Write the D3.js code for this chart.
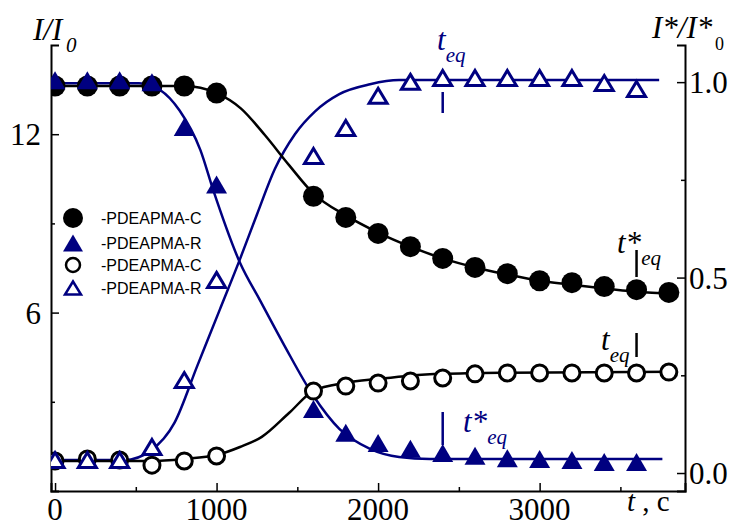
<!DOCTYPE html>
<html lang="en">
<head>
<meta charset="UTF-8" />
<title>I/I0 vs t</title>
<script src="https://cdn.jsdelivr.net/npm/d3@7"></script>
<style>
  body { margin: 0; background: #fff; }
</style>
</head>
<body>
<div id="chart"></div>
<script>
// measured points (t in c)
const times = [0, 200, 400, 600, 800, 1000, 1600, 1800, 2000, 2200, 2400, 2600, 2800, 3000, 3200, 3400, 3600, 3800];
// filled symbols -> right axis (I*/I*0), open symbols -> left axis (I/I0)
const circFilled = [0.99, 0.99, 0.99, 0.99, 0.99, 0.972, 0.708, 0.654, 0.613, 0.579, 0.549, 0.526, 0.510, 0.492, 0.487, 0.477, 0.469, 0.462];
const triFilled = [1.005, 1.005, 1.005, 1.0, 0.885, 0.738, 0.164, 0.103, 0.077, 0.062, 0.051, 0.044, 0.038, 0.036, 0.033, 0.028, 0.028];
const circOpen = [1.01, 1.08, 1.04, 0.87, 1.01, 1.18, 3.36, 3.53, 3.63, 3.70, 3.80, 3.94, 3.97, 3.97, 3.97, 3.97, 3.97, 4.0];
const triOpen = [1.04, 1.04, 1.04, 1.48, 3.73, 7.10, 11.27, 12.21, 13.29, 13.76, 13.89, 13.89, 13.89, 13.89, 13.89, 13.72, 13.52];

// fitted curves as [t, value]
const fitCircFilled = [[0, 0.99], [800, 0.99], [1000, 0.972], [1150, 0.933], [1300, 0.864], [1450, 0.787], [1600, 0.715], [1800, 0.659], [2000, 0.615], [2200, 0.579], [2400, 0.549], [2600, 0.526], [2800, 0.508], [3000, 0.492], [3200, 0.482], [3400, 0.472], [3600, 0.464], [3830, 0.459]];
const fitTriFilled = [[0, 0.997], [520, 0.997], [650, 0.98], [770, 0.928], [900, 0.826], [980, 0.723], [1145, 0.538], [1270, 0.441], [1420, 0.326], [1600, 0.197], [1760, 0.113], [1950, 0.062], [2130, 0.041], [2320, 0.036], [3760, 0.036]];
const fitCircOpen = [[0, 1.01], [590, 1.01], [800, 1.08], [1000, 1.21], [1145, 1.48], [1280, 1.82], [1450, 2.63], [1600, 3.37], [1800, 3.64], [2000, 3.77], [2200, 3.88], [2400, 3.94], [2800, 3.98], [3830, 4.01]];
const fitTriOpen = [[0, 1.04], [430, 1.04], [590, 1.35], [740, 2.3], [880, 4.2], [1020, 6.1], [1145, 7.8], [1250, 9.30], [1360, 10.82], [1485, 12.00], [1610, 12.77], [1760, 13.35], [1950, 13.68], [2130, 13.82], [3740, 13.82]];

const legendNames = ["-PDEAPMA-C", "-PDEAPMA-R", "-PDEAPMA-C", "-PDEAPMA-R"];
const xTicks = [0, 1000, 2000, 3000];
const leftTicks = [6, 12];
const rightTicks = [0.0, 0.5, 1.0];

const W = 732, H = 527;
const navy = "#000080";
const serif = "'Liberation Serif', serif";
const sans = "'Liberation Sans', sans-serif";

const svg = d3.select("#chart").append("svg")
  .attr("width", W).attr("height", H);

const x = d3.scaleLinear().domain([-25, 3900]).range([51, 685]);
const yL = d3.scaleLinear().domain([0, 15]).range([491, 45]);
const yR = d3.scaleLinear().domain([-0.046, 1.095]).range([491, 45]);

svg.append("clipPath").attr("id", "plot")
  .append("rect").attr("x", 51).attr("y", 45).attr("width", 634).attr("height", 446);

// axes, ticks pointing inward
const axB = svg.append("g").attr("transform", "translate(0,491)")
  .call(d3.axisTop(x).tickValues(d3.range(0, 3900, 500)).tickSize(8).tickFormat(""));
axB.selectAll(".tick line").attr("y2", (d) => d % 1000 === 0 ? -8 : -4);
const axL = svg.append("g").attr("transform", "translate(51,0)")
  .call(d3.axisRight(yL).tickValues([3, 6, 9, 12]).tickSize(8).tickFormat(""));
axL.selectAll(".tick line").attr("x2", (d) => d % 6 === 0 ? 8 : 4);
const axR = svg.append("g").attr("transform", "translate(685,0)")
  .call(d3.axisLeft(yR).tickValues([0, 0.25, 0.5, 0.75, 1.0]).tickSize(8).tickFormat(""));
axR.selectAll(".tick line").attr("x2", (d) => (d * 4) % 2 === 0 ? -8 : -4);
svg.selectAll(".domain").attr("stroke-width", 2);
svg.selectAll(".tick line").attr("stroke-width", 1.5);

// tick labels
svg.append("g").selectAll("text").data(xTicks).enter().append("text")
  .attr("x", d => x(d)).attr("y", 520).attr("text-anchor", "middle")
  .attr("font-size", 31).style("font-family", serif).text(d => d);
svg.append("g").selectAll("text").data(leftTicks).enter().append("text")
  .attr("x", 41).attr("y", d => yL(d) + 11).attr("text-anchor", "end")
  .attr("font-size", 31).style("font-family", serif).text(d => d);
svg.append("g").selectAll("text").data(rightTicks).enter().append("text")
  .attr("x", 689).attr("y", d => yR(d) + 11)
  .attr("font-size", 31).style("font-family", serif).text(d => d3.format(".1f")(d));

// fit curves
const plot = svg.append("g").attr("clip-path", "url(#plot)");
const lineL = d3.line().x(d => x(d[0])).y(d => yL(d[1])).curve(d3.curveMonotoneX);
const lineR = d3.line().x(d => x(d[0])).y(d => yR(d[1])).curve(d3.curveMonotoneX);

plot.append("path").attr("d", lineL(fitTriOpen)).attr("fill", "none").attr("stroke", navy).attr("stroke-width", 2.5);
plot.append("path").attr("d", lineR(fitTriFilled)).attr("fill", "none").attr("stroke", navy).attr("stroke-width", 2.5);
plot.append("path").attr("d", lineR(fitCircFilled)).attr("fill", "none").attr("stroke", "#000").attr("stroke-width", 2.5);
plot.append("path").attr("d", lineL(fitCircOpen)).attr("fill", "none").attr("stroke", "#000").attr("stroke-width", 2.5);

// triangle centred on its bounding box
const tri = (w, h) => `M0,${-h / 2}L${w / 2},${h / 2}L${-w / 2},${h / 2}Z`;

plot.selectAll(".circ-open").data(circOpen).enter().append("circle")
  .attr("cx", (d, i) => x(times[i])).attr("cy", d => yL(d)).attr("r", 8)
  .attr("fill", "#fff").attr("stroke", "#000").attr("stroke-width", 3);

plot.selectAll(".tri-open").data(triOpen).enter().append("path")
  .attr("transform", (d, i) => `translate(${x(times[i])},${yL(d)})`)
  .attr("d", tri(18, 15)).attr("fill", "#fff").attr("stroke", navy).attr("stroke-width", 3);

plot.selectAll(".circ-filled").data(circFilled).enter().append("circle")
  .attr("cx", (d, i) => x(times[i])).attr("cy", d => yR(d)).attr("r", 10.5)
  .attr("fill", "#000");

plot.selectAll(".tri-filled").data(triFilled).enter().append("path")
  .attr("transform", (d, i) => `translate(${x(times[i])},${yR(d)})`)
  .attr("d", tri(21, 18)).attr("fill", navy);

// legend
const legY = [218, 243, 265, 288];
const leg = svg.append("g");
leg.append("circle").attr("cx", 73).attr("cy", legY[0]).attr("r", 10).attr("fill", "#000");
leg.append("path").attr("transform", `translate(73,${legY[1]})`).attr("d", tri(20, 17)).attr("fill", navy);
leg.append("circle").attr("cx", 73).attr("cy", legY[2]).attr("r", 7).attr("fill", "#fff").attr("stroke", "#000").attr("stroke-width", 2.5);
leg.append("path").attr("transform", `translate(73,${legY[3]})`).attr("d", tri(16, 13)).attr("fill", "#fff").attr("stroke", navy).attr("stroke-width", 2.5);
leg.selectAll("text").data(legendNames).enter().append("text")
  .attr("x", 101).attr("y", (d, i) => legY[i] + 6)
  .attr("font-size", 16).style("font-family", sans).text(d => d);

// axis titles
const tL = svg.append("text").attr("x", 33).attr("y", 40).attr("font-size", 31)
  .attr("font-style", "italic").style("font-family", serif);
tL.append("tspan").text("I/I");
tL.append("tspan").attr("x", 66).attr("y", 52).attr("font-size", 21).text("0");

const tR = svg.append("text").attr("x", 652).attr("y", 38).attr("font-size", 31)
  .attr("font-style", "italic").style("font-family", serif);
tR.append("tspan").text("I*/I*");
tR.append("tspan").attr("x", 715).attr("y", 50).attr("font-size", 18).attr("font-style", "normal").text("0");

const tX = svg.append("text").attr("x", 627).attr("y", 511).attr("font-size", 29).style("font-family", serif);
tX.append("tspan").attr("font-style", "italic").text("t");
tX.append("tspan").text(" , c");

// equilibrium markers
function marker(tVal, y1, y2, color) {
  svg.append("line").attr("x1", x(tVal)).attr("x2", x(tVal)).attr("y1", y1).attr("y2", y2)
    .attr("stroke", color).attr("stroke-width", 2.5);
}
function label(px, py, star, color) {
  const t = svg.append("text").attr("x", px).attr("y", py).attr("fill", color)
    .attr("font-size", 31).attr("font-style", "italic").style("font-family", serif);
  t.append("tspan").text(star ? "t*" : "t");
  t.append("tspan").attr("dy", 12).attr("font-size", 21).text("eq");
}
marker(2400, 92, 113, navy);
label(437, 50, false, navy);
marker(2400, 412, 445, navy);
label(463, 432, true, navy);
marker(3600, 250, 277, "#000");
label(617, 253, true, "#000");
marker(3600, 333, 357, "#000");
label(601, 350, false, "#000");
</script>
</body>
</html>
